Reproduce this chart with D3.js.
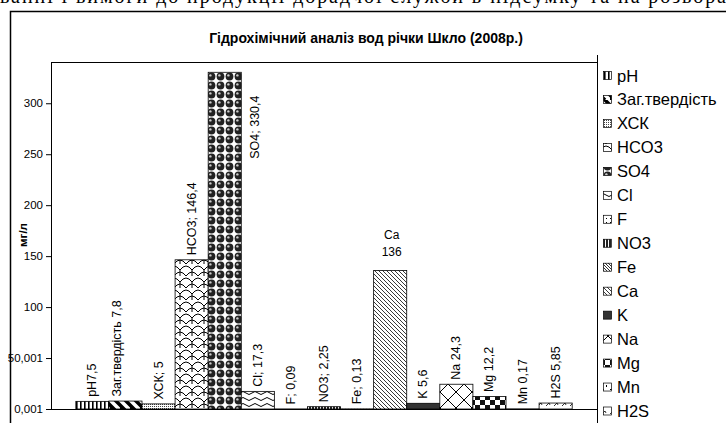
<!DOCTYPE html>
<html><head><meta charset="utf-8">
<script src="https://cdn.jsdelivr.net/npm/d3@7"></script>
<style>
html,body{margin:0;padding:0;background:#fff;}
svg{display:block;}
text{font-family:"Liberation Sans",Arial,sans-serif;}
</style></head>
<body>
<script>
const series = ["pH","Заг.твердість","ХСК","HCO3","SO4","Cl","F","NO3","Fe","Ca","K","Na","Mg","Mn","H2S"];
const values = [7.5,7.8,5,146.4,330.4,17.3,0.09,2.25,0.13,136,5.6,24.3,12.2,0.17,5.85];
const labelSeps = [""," ","; ","; ","; ","; ","; ","; ","; ","\n"," "," "," "," "," "];
const tickValues = [0.001,50.001,100.001,150.001,200.001,250.001,300.001];
const tickLabels = ["0,001","50,001","100","150","200","250","300"];
const title = "Гідрохімічний аналіз вод річки Шкло (2008р.)";
const yTitle = "мг/л";
const topText = "ванні і вимоги до продукції дорадчої служби в підсумку та на розвора";

const W = 726, H = 423;
const svg = d3.select("body").append("svg").attr("width", W).attr("height", H);
const defs = svg.append("defs");

function pat(id, w, h, draw){
  const p = defs.append("pattern").attr("id", id).attr("patternUnits","userSpaceOnUse")
    .attr("width", w).attr("height", h);
  p.append("rect").attr("width", w).attr("height", h).attr("fill","#fff");
  draw(p);
}
pat("p0",4,4,p=>p.append("rect").attr("x",0).attr("width",1.6).attr("height",4).attr("fill","#000"));
pat("p1",10,10,p=>{p.append("path").attr("d","M-5,0 L5,10 M0,-5 L15,10 M5,0 L15,10 M-5,5 L5,15").attr("stroke","#000").attr("stroke-width",3.5);});
pat("p2",2,2,p=>{p.append("rect").attr("width",1).attr("height",1).attr("fill","#444");});
pat("p3",12,12,p=>{p.append("path").attr("d","M0,6 Q6,-2 12,6 M-6,12 Q0,4 6,12 M6,12 Q12,4 18,12 M0,6 L0,12 M12,6 L12,12").attr("stroke","#000").attr("stroke-width",1).attr("fill","none");});
pat("p4",9,9,p=>{
  p.append("circle").attr("cx",4.5).attr("cy",4.5).attr("r",3.9).attr("fill","#222");
  p.append("circle").attr("cx",3.4).attr("cy",3.4).attr("r",1.2).attr("fill","#ccc");
});
pat("p5",12,6,p=>{p.append("path").attr("d","M0,3 Q3,0 6,3 T12,3").attr("stroke","#000").attr("stroke-width",1).attr("fill","none");});
pat("p6",4,4,p=>{p.append("rect").attr("x",2).attr("y",2).attr("width",1).attr("height",1).attr("fill","#000");});
pat("p7",3,3,p=>{p.append("rect").attr("width",2).attr("height",3).attr("fill","#222");});
pat("p8",3,3,p=>{p.append("path").attr("d","M0,0 L3,3 M-1,2 L1,4 M2,-1 L4,1").attr("stroke","#333").attr("stroke-width",1);});
pat("p9",4,4,p=>{p.append("path").attr("d","M0,0 L4,4 M-1,3 L1,5 M3,-1 L5,1").attr("stroke","#222").attr("stroke-width",0.9);});
pat("p10",4,4,p=>{p.append("rect").attr("width",4).attr("height",4).attr("fill","#333");});
pat("p11",16,16,p=>{p.append("path").attr("d","M0,16 L16,0 M0,0 L16,16 M-8,8 L8,-8 M8,24 L24,8").attr("stroke","#000").attr("stroke-width",1).attr("fill","none");});
pat("p12",10,10,p=>{p.append("path").attr("d","M0,0 h5 v5 h-5 z M5,5 h5 v5 h-5 z").attr("fill","#111");});
pat("p13",8,8,p=>{p.append("rect").attr("x",2).attr("y",5).attr("width",2).attr("height",1).attr("fill","#000");p.append("rect").attr("x",6).attr("y",1).attr("width",1).attr("height",2).attr("fill","#000");});
pat("p14",8,8,p=>{p.append("path").attr("d","M2,6 L5,3 M5,3 L6,5").attr("stroke","#000").attr("stroke-width",0.8).attr("fill","none");});

// cut-off line of page text at the very top (only its lower part is visible in the reference)
svg.append("text").attr("x", 0).attr("y", 3).attr("textLength", 726).attr("lengthAdjust","spacing")
  .style("font-family","'Liberation Serif','Times New Roman',serif").style("font-size","20px").text(topText);

// outer frame
svg.append("rect").attr("x",10.5).attr("y",11.5).attr("width",760).attr("height",460)
  .attr("fill","none").attr("stroke","#000").attr("stroke-width",1.5);

const plot = {l:51, r:597, t:62.5, b:409};
const x = d3.scaleBand().domain(series).range([plot.l, plot.r]).paddingInner(0).paddingOuter(0.75);
const y = d3.scaleLinear().domain([0.001, 340.001]).range([plot.b, plot.t]);

svg.append("line").attr("x1",plot.l).attr("x2",plot.r).attr("y1",plot.t).attr("y2",plot.t).attr("stroke","#000").attr("stroke-width",1);

svg.append("g").selectAll("rect").data(series).join("rect")
  .attr("x", d=>x(d)).attr("width", x.bandwidth())
  .attr("y", (d,i)=>y(values[i])).attr("height", (d,i)=>y(0.001)-y(values[i]))
  .attr("fill", (d,i)=>`url(#p${i})`).attr("stroke","#000").attr("stroke-width",0.8);

const yAxis = d3.axisLeft(y).tickValues(tickValues).tickFormat((d,i)=>tickLabels[i]).tickSize(5).tickSizeOuter(0);
const ga = svg.append("g").attr("transform",`translate(${plot.l},0)`).call(yAxis);
ga.select(".domain").attr("stroke","#000");
ga.selectAll(".tick line").attr("stroke","#000");
ga.selectAll(".tick text").attr("x",-8).style("font-size","11.5px").style("font-family","'Liberation Sans',Arial,sans-serif").attr("fill","#000");

svg.append("line").attr("x1",plot.l).attr("x2",plot.r).attr("y1",plot.b+0.5).attr("y2",plot.b+0.5).attr("stroke","#000");

const fmt = v => String(v).replace(".", ",");
const labelMove = {"Заг.твердість":{dx:-8, dy:0}, "SO4":{dx:30.5, dy:91}};
const lg = svg.append("g").style("font-size","12.5px");
series.forEach((s,i)=>{
  const cx = x(s) + x.bandwidth()/2;
  const top = y(values[i]);
  const sep = labelSeps[i];
  if (sep === "\n") {
    lg.append("text").attr("x",cx+1.5).attr("y",top-31).attr("text-anchor","middle").style("font-size","12px").text(s);
    lg.append("text").attr("x",cx+1.5).attr("y",top-14).attr("text-anchor","middle").style("font-size","12px").text(fmt(values[i]));
  } else {
    const m = labelMove[s] || {dx:0, dy:0};
    lg.append("text").attr("transform",`translate(${cx+m.dx},${top-4.5+m.dy}) rotate(-90)`)
      .attr("text-anchor","start").attr("dominant-baseline","central")
      .text(s + sep + fmt(values[i]));
  }
});

svg.append("text").attr("x",366).attr("y",43).attr("text-anchor","middle")
  .style("font-weight","bold").style("font-size","14px").text(title);

svg.append("text").attr("transform","translate(23,235) rotate(-90)").attr("text-anchor","middle")
  .attr("dominant-baseline","central").style("font-weight","bold").style("font-size","11.5px").text(yTitle);

svg.append("line").attr("x1",597.5).attr("x2",597.5).attr("y1",55).attr("y2",430).attr("stroke","#000");
const leg = svg.append("g");
const legY = d3.scalePoint().domain(series).range([75.5, 411]);
series.forEach((s,i)=>{
  const cy = legY(s);
  leg.append("rect").attr("x",603.5).attr("y",cy-4).attr("width",8).attr("height",8)
    .attr("fill",`url(#p${i})`).attr("stroke","#000").attr("stroke-width",0.7);
  leg.append("text").attr("x",617).attr("y",cy).attr("dominant-baseline","central")
    .style("font-size","16.5px").text(s);
});
</script>
</body></html>
